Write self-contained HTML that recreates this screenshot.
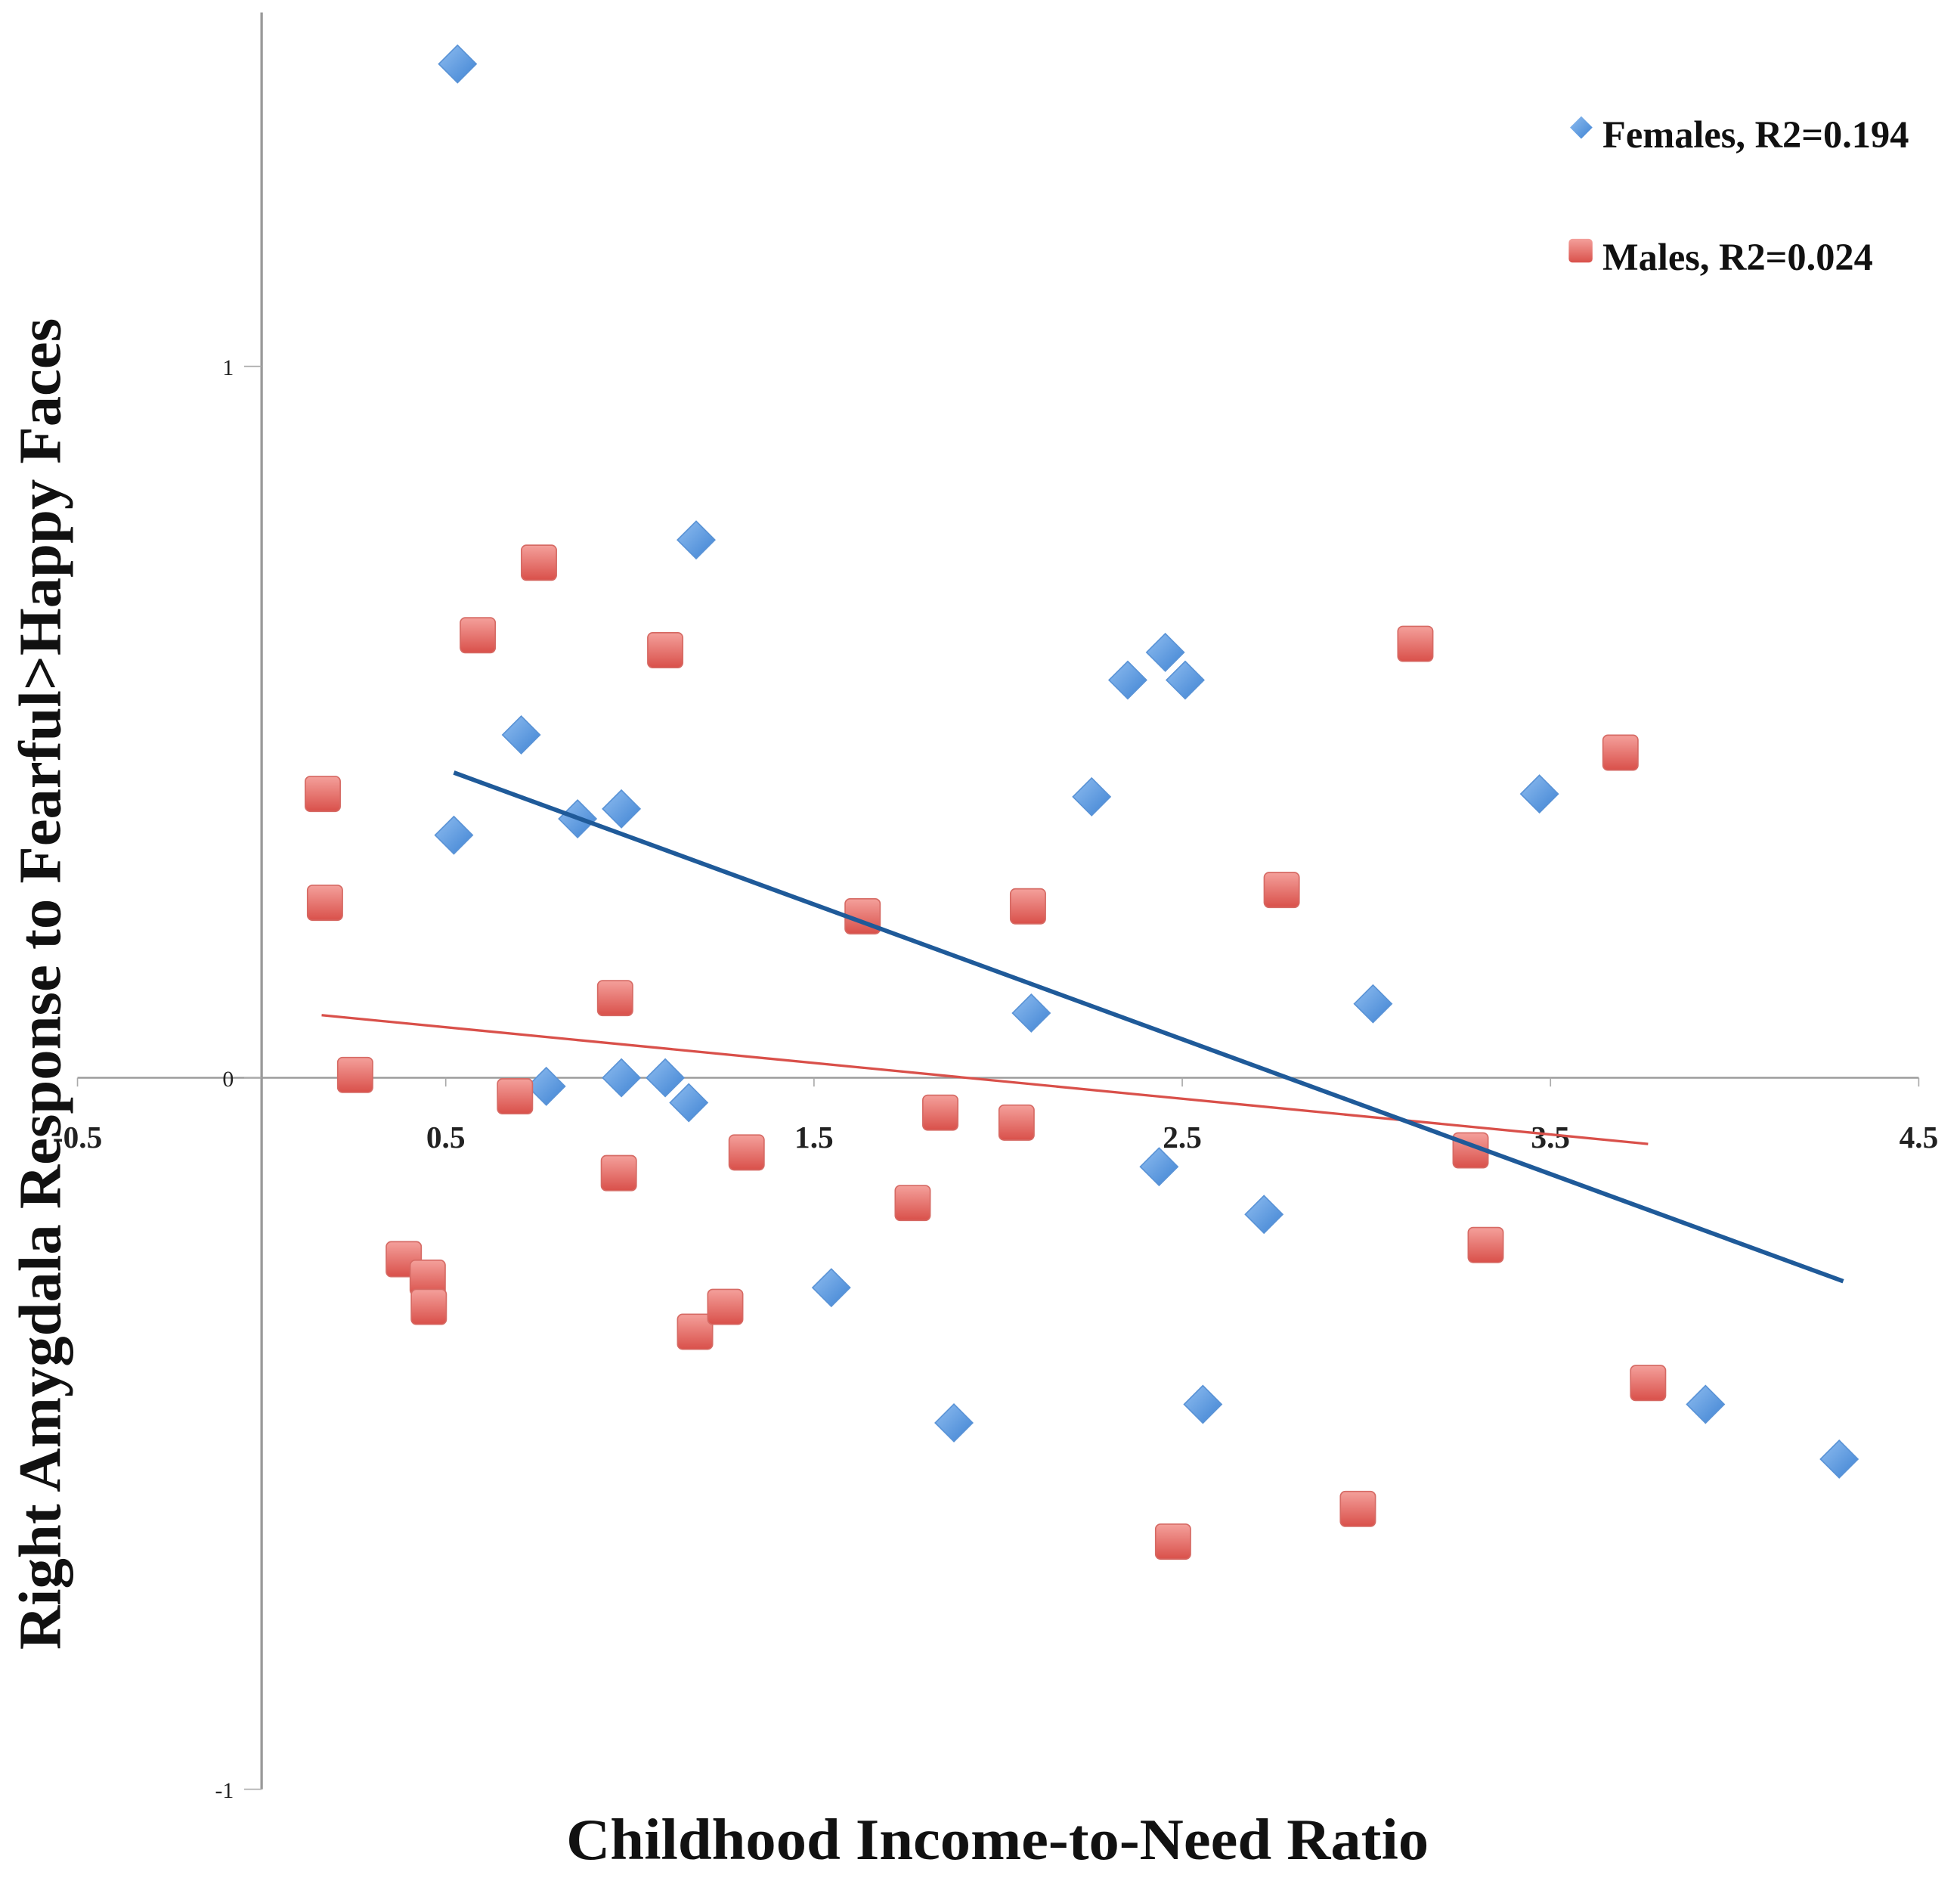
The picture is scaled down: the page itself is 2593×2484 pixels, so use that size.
<!DOCTYPE html>
<html><head><meta charset="utf-8"><style>
html,body{margin:0;padding:0;background:#fff;}
svg{display:block;}
text{font-family:"Liberation Serif",serif;}
</style></head><body>
<svg id="chart" width="2593" height="2484" viewBox="0 0 1568 1502" preserveAspectRatio="none" xmlns="http://www.w3.org/2000/svg">
<defs>
<linearGradient id="gb" x1="0" y1="0" x2="1" y2="1"><stop offset="0" stop-color="#8fbdf0"/><stop offset="1" stop-color="#3f83d3"/></linearGradient>
<linearGradient id="gr" x1="0" y1="0" x2="0" y2="1"><stop offset="0" stop-color="#f4a09b"/><stop offset="1" stop-color="#d9504a"/></linearGradient>
</defs>
<g id="axes"></g>
<g id="marks"></g>
<g>
<path d="M1265,93 L1274,102 L1265,111 L1256,102 Z" fill="url(#gb)"/>
<text x="1282" y="118" font-size="30.5" font-weight="bold" fill="#111">Females, R2=0.194</text>
<rect x="1255" y="191" width="19" height="19" rx="3" fill="url(#gr)"/>
<text x="1282" y="216" font-size="30.5" font-weight="bold" fill="#111">Males, R2=0.024</text>
</g>
<text transform="translate(48,787) rotate(-90)" text-anchor="middle" font-size="48" font-weight="bold" fill="#111" textLength="1065" lengthAdjust="spacingAndGlyphs">Right Amygdala Response to Fearful&gt;Happy Faces</text>
<text x="798" y="1487" text-anchor="middle" font-size="47" font-weight="bold" fill="#111" textLength="690" lengthAdjust="spacingAndGlyphs">Childhood Income-to-Need Ratio</text>
</svg>
<script>
const xTicks = [-0.5, 0.5, 1.5, 2.5, 3.5, 4.5];
const xTickLabels = ["-0.5", "0.5", "1.5", "2.5", "3.5", "4.5"];
const yTicks = [1, 0, -1];
const yTickLabels = ["1", "0", "-1"];
const femaleX = [0.532,1.18,0.705,0.522,0.858,0.977,0.773,0.977,1.096,1.16,1.547,1.88,2.09,2.254,2.352,2.454,2.508,2.437,2.556,2.722,3.018,3.47,3.921,4.284];
const femaleY = [1.425,0.756,0.482,0.341,0.364,0.378,-0.012,0,0,-0.035,-0.295,-0.485,0.091,0.395,0.559,0.598,0.559,-0.125,-0.459,-0.192,0.104,0.399,-0.459,-0.536];
const maleX = [0.166,0.172,0.254,0.753,0.587,1.096,1.632,2.081,0.96,0.688,0.97,1.317,1.843,2.05,1.768,0.386,0.451,0.454,1.177,1.259,2.77,3.133,3.69,3.283,3.324,3.765,2.977,2.475];
const maleY = [0.399,0.246,0.004,0.724,0.622,0.601,0.227,0.241,0.112,-0.026,-0.134,-0.105,-0.049,-0.063,-0.176,-0.255,-0.281,-0.322,-0.357,-0.322,0.264,0.61,0.457,-0.102,-0.235,-0.429,-0.606,-0.652];
const femaleTrendX = [0.522, 4.295];
const femaleTrendY = [0.429, -0.286];
const maleTrendX = [0.163, 3.765];
const maleTrendY = [0.088, -0.093];

const NS = "http://www.w3.org/2000/svg";
function sx(v){ return 62 + (v + 0.5) * 294.6; }
function sy(v){ return 862 - v * 569; }
function mk(tag, attrs, parent){
  const e = document.createElementNS(NS, tag);
  for (const k in attrs) e.setAttribute(k, attrs[k]);
  parent.appendChild(e);
  return e;
}
const axes = document.getElementById('axes');
const marks = document.getElementById('marks');
let e;
e = mk('line', {x1: sx(0), y1: 10, x2: sx(0), y2: sy(-1), stroke: '#999', 'stroke-width': 2}, axes);


e = mk('line', {x1: sx(-0.5), y1: sy(0), x2: sx(4.5), y2: sy(0), stroke: '#999', 'stroke-width': 1.5}, axes);


xTicks.forEach((t, i) => {
  e = mk('line', {x1: sx(t), y1: sy(0), x2: sx(t), y2: sy(0) + 7, stroke: '#aaa', 'stroke-width': 1}, axes);
  
  
  e = mk('text', {x: sx(t), y: 918, 'text-anchor': 'middle', 'font-size': 25, 'font-weight': 'bold', fill: '#222'}, axes);
  e.textContent = xTickLabels[i];
  
  
});
yTicks.forEach((t, i) => {
  e = mk('line', {x1: sx(0) - 14, y1: sy(t), x2: sx(0), y2: sy(t), stroke: '#aaa', 'stroke-width': 1}, axes);
  
  
  e = mk('text', {x: 187, y: sy(t) + 7, 'text-anchor': 'end', 'font-size': 18, fill: '#222'}, axes);
  e.textContent = yTickLabels[i];
  
  
});
femaleX.forEach((x, i) => {
  const cx = sx(x), cy = sy(femaleY[i]), r = 15;
  e = mk('path', {d: `M${cx},${cy-r} L${cx+r},${cy} L${cx},${cy+r} L${cx-r},${cy} Z`, fill: 'url(#gb)', stroke: '#5a93d6', 'stroke-width': 1}, marks);
  
  
});
maleX.forEach((x, i) => {
  const cx = sx(x), cy = sy(maleY[i]), h = 14;
  e = mk('rect', {x: cx - h, y: cy - h, width: 2*h, height: 2*h, rx: 4, fill: 'url(#gr)', stroke: '#d66a64', 'stroke-width': 1}, marks);
  
  
});
e = mk('line', {x1: sx(maleTrendX[0]), y1: sy(maleTrendY[0]), x2: sx(maleTrendX[1]), y2: sy(maleTrendY[1]), stroke: '#d9504a', 'stroke-width': 2}, marks);


e = mk('line', {x1: sx(femaleTrendX[0]), y1: sy(femaleTrendY[0]), x2: sx(femaleTrendX[1]), y2: sy(femaleTrendY[1]), stroke: '#1f5a99', 'stroke-width': 3.5}, marks);


</script>
</body></html>
